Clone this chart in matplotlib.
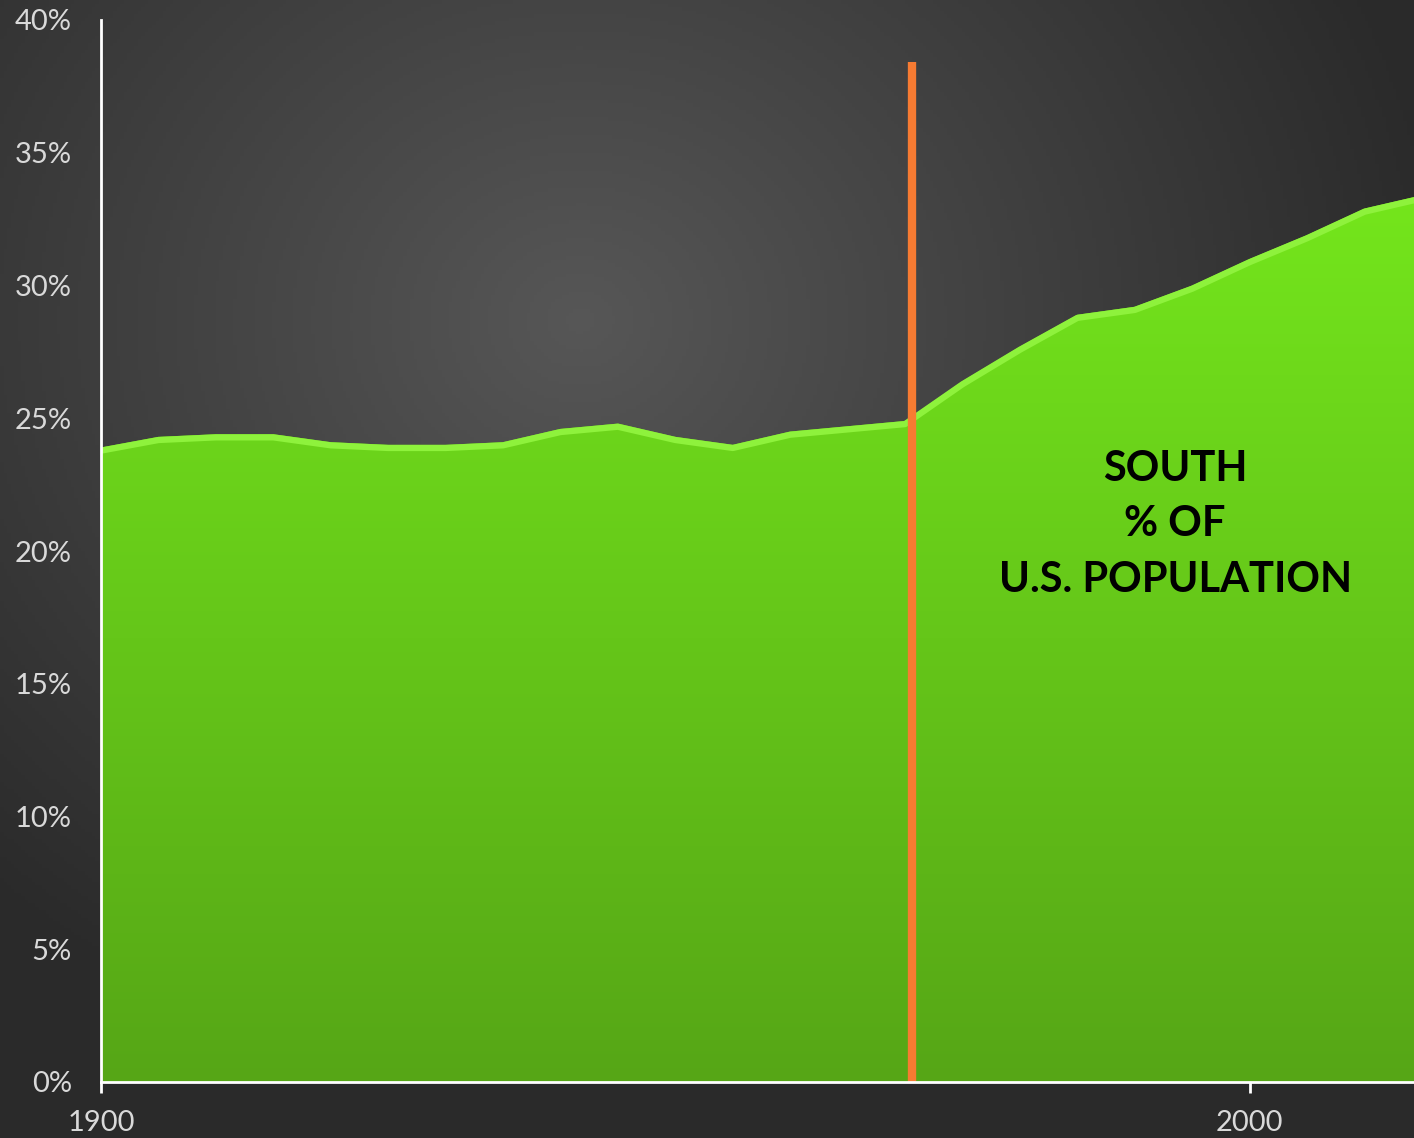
import numpy as np
import matplotlib.pyplot as plt
from matplotlib.patches import Polygon

years = [1900, 1905, 1910, 1915, 1920, 1925, 1930, 1935, 1940, 1945, 1950, 1955,
         1960, 1965, 1970, 1975, 1980, 1985, 1990, 1995, 2000, 2005, 2010, 2015]
south_pct = [23.9, 24.3, 24.4, 24.4, 24.1, 24.0, 24.0, 24.1, 24.6, 24.8, 24.3, 24.0,
             24.5, 24.7, 24.9, 26.4, 27.7, 28.9, 29.2, 30.0, 31.0, 31.9, 32.9, 33.4]
y_ticks = [0, 5, 10, 15, 20, 25, 30, 35, 40]
x_ticks = [1900, 2000]
marker_year = 1970.6
marker_top = 38.4

plt.rcParams['font.family'] = ['Lato', 'DejaVu Sans']

fig = plt.figure(figsize=(14.14, 11.38), dpi=100)

# radial dark background
bg = fig.add_axes([0, 0, 1, 1], zorder=0)
gx, gy = np.meshgrid(np.linspace(0, 1414, 400), np.linspace(0, 1138, 320))
r = np.sqrt(((gx - 580) / 900) ** 2 + ((gy - 320) / 800) ** 2)
shade = np.clip(0.34 - 0.18 * r, 0.165, 0.34)
bg.imshow(np.dstack([shade] * 3), extent=[0, 1414, 1138, 0], aspect='auto')
bg.set_xlim(0, 1414)
bg.set_ylim(1138, 0)
bg.axis('off')

ax = fig.add_axes([101 / 1414, 56 / 1138, 1 - 101 / 1414, 1062 / 1138], zorder=1)
ax.patch.set_visible(False)
ax.set_xlim(1900, 2014.3)
ax.set_ylim(0, 40)

# green area with vertical gradient
verts = [(years[0], 0)] + list(zip(years, south_pct)) + [(years[-1], 0)]
poly = Polygon(verts, closed=True, facecolor='none', edgecolor='none')
ax.add_patch(poly)
top = np.array([0x74, 0xe6, 0x1c]) / 255
bot = np.array([0x56, 0xa6, 0x16]) / 255
t = np.linspace(0, 1, 256)[:, None]
grad = (top * (1 - t) + bot * t)[:, None, :]
im = ax.imshow(grad, extent=[1900, 2015, 0, max(south_pct)], aspect='auto',
               origin='upper', zorder=2)
im.set_clip_path(poly)
ax.plot(years, np.array(south_pct) - 0.12, color='#8ef23c', lw=4.5,
        solid_joinstyle='round', zorder=3, clip_on=True)

ax.plot([marker_year, marker_year], [0, marker_top], color='#f77b32', lw=6,
        solid_capstyle='butt', zorder=4)

ax.text(1993.5, 21.0, 'SOUTH\n% OF\nU.S. POPULATION', ha='center', va='center',
        fontsize=30, fontweight='bold', color='black', linespacing=1.55, zorder=5)

for s in ['top', 'right']:
    ax.spines[s].set_visible(False)
for s in ['left', 'bottom']:
    ax.spines[s].set_color('white')
    ax.spines[s].set_linewidth(2)
    ax.spines[s].set_zorder(6)

ax.set_yticks(y_ticks)
ax.set_yticklabels([f'{v}%' for v in y_ticks])
ax.set_xticks(x_ticks)
ax.set_xticklabels([str(v) for v in x_ticks])
ax.tick_params(axis='y', length=0, pad=21, labelsize=21, labelcolor='#d9d9d9')
ax.tick_params(axis='x', length=8, width=2, color='white', direction='out',
               pad=12, labelsize=21, labelcolor='#d9d9d9')

fig.savefig('out.png', dpi=100)
